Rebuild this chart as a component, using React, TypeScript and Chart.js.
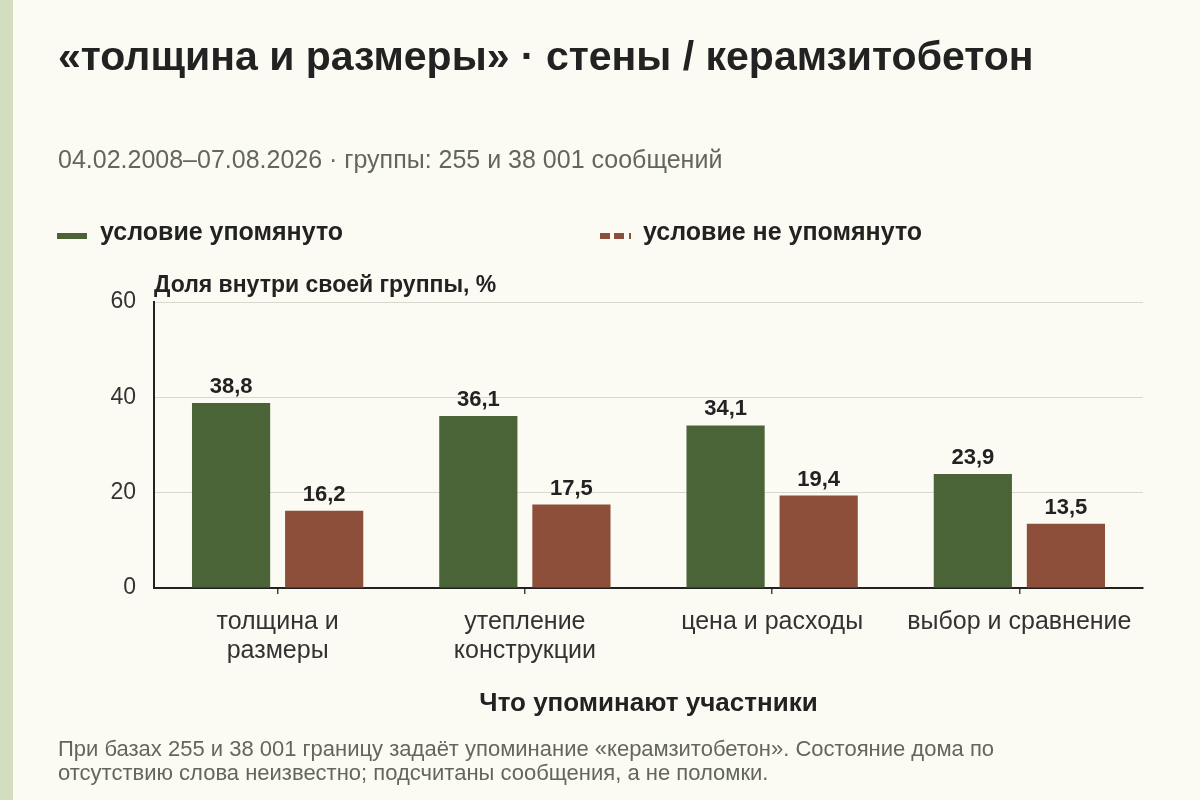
import React, { useEffect, useRef } from 'react';
import { Chart, registerables } from 'chart.js';

Chart.register(...registerables);

const categories: (string | string[])[] = [
  ['толщина и', 'размеры'],
  ['утепление', 'конструкции'],
  'цена и расходы',
  'выбор и сравнение',
];
const mentioned = [38.8, 36.1, 34.1, 23.9];
const notMentioned = [16.2, 17.5, 19.4, 13.5];
const yTicks = [0, 20, 40, 60];

const GREEN = '#4a6438';
const BROWN = '#8d4f39';
const FONT = '"Liberation Sans", Arial, sans-serif';
const INK = '#222';
const MUTED = '#63665b';

// value above each bar, decimal comma
const valueLabels = {
  id: 'valueLabels',
  afterDatasetsDraw(chart: any) {
    const ctx = chart.ctx;
    ctx.save();
    ctx.font = `bold 22px ${FONT}`;
    ctx.fillStyle = INK;
    ctx.textAlign = 'center';
    ctx.textBaseline = 'alphabetic';
    chart.data.datasets.forEach((ds: any, i: number) => {
      const meta = chart.getDatasetMeta(i);
      meta.data.forEach((bar: any, j: number) => {
        const v = ds.data[j] as number;
        ctx.fillText(v.toFixed(1).replace('.', ','), bar.x, bar.y - 10);
      });
    });
    ctx.restore();
  },
};

const axisTitles = {
  id: 'axisTitles',
  afterDraw(chart: any) {
    const { ctx, chartArea } = chart;
    ctx.save();
    ctx.fillStyle = INK;
    ctx.font = `bold 23px ${FONT}`;
    ctx.textAlign = 'left';
    ctx.textBaseline = 'alphabetic';
    ctx.fillText('Доля внутри своей группы, %', chartArea.left, 292);
    ctx.font = `bold 26px ${FONT}`;
    ctx.textAlign = 'center';
    ctx.fillText('Что упоминают участники', (chartArea.left + chartArea.right) / 2, 711);
    ctx.restore();
  },
};

export default function App() {
  const canvasRef = useRef<HTMLCanvasElement | null>(null);
  const chartRef = useRef<Chart | null>(null);

  useEffect(() => {
    if (!canvasRef.current) return;
    if (chartRef.current) chartRef.current.destroy();
    const ctx = canvasRef.current.getContext('2d');
    if (!ctx) return;

    chartRef.current = new Chart(ctx, {
      type: 'bar',
      data: {
        labels: categories,
        datasets: [
          {
            label: 'условие упомянуто',
            data: mentioned,
            backgroundColor: GREEN,
            barPercentage: 0.84,
            categoryPercentage: 0.753,
          },
          {
            label: 'условие не упомянуто',
            data: notMentioned,
            backgroundColor: BROWN,
            barPercentage: 0.84,
            categoryPercentage: 0.753,
          },
        ],
      },
      options: {
        animation: false,
        responsive: false,
        maintainAspectRatio: false,
        layout: { padding: { left: 0, right: 57, top: 302, bottom: 0 } },
        plugins: {
          legend: { display: false },
          tooltip: { enabled: false },
        },
        scales: {
          x: {
            afterFit: (s: any) => { s.height = 212; },
            grid: {
              offset: false,
              drawOnChartArea: false,
              drawTicks: true,
              tickLength: 6,
              color: '#444',
              lineWidth: 1.5,
            },
            border: { color: INK, width: 2 },
            ticks: {
              color: '#333',
              font: { family: FONT, size: 25, lineHeight: 1.15 },
              padding: 14,
              maxRotation: 0,
            },
          },
          y: {
            min: 0,
            max: 60,
            afterFit: (s: any) => { s.width = 154; },
            afterBuildTicks: (s: any) => { s.ticks = yTicks.map((v) => ({ value: v })); },
            grid: { color: '#d9d8cf', lineWidth: 1, drawTicks: false },
            border: { color: INK, width: 2 },
            ticks: {
              color: '#333',
              font: { family: FONT, size: 23 },
              padding: 18,
            },
          },
        },
      },
      plugins: [valueLabels, axisTitles],
    });

    return () => {
      if (chartRef.current) chartRef.current.destroy();
    };
  }, []);

  const line1 = { position: 'absolute' as const, lineHeight: 1, whiteSpace: 'nowrap' as const };

  return (
    <div style={{ position: 'fixed', top: 0, left: 0, width: 1200, height: 800, background: '#fcfbf3', fontFamily: FONT, overflow: 'hidden' }}>
      <div style={{ position: 'absolute', left: 0, top: 0, width: 13, height: 800, background: '#d3dec0' }} />
      <canvas ref={canvasRef} width={1200} height={800} style={{ position: 'absolute', left: 0, top: 0, width: 1200, height: 800 }} />
      <div style={{ ...line1, left: 58, top: 36, fontSize: 41, fontWeight: 'bold', color: INK }}>
        «толщина и размеры» · стены / керамзитобетон
      </div>
      <div style={{ ...line1, left: 58, top: 147, fontSize: 25, color: MUTED }}>
        04.02.2008–07.08.2026 · группы: 255 и 38 001 сообщений
      </div>
      <div style={{ position: 'absolute', left: 57, top: 233, width: 30, height: 6, background: GREEN }} />
      <div style={{ ...line1, left: 100, top: 219, fontSize: 25, fontWeight: 'bold', color: INK }}>условие упомянуто</div>
      <div style={{ position: 'absolute', left: 600, top: 233, width: 31, height: 6, background: `repeating-linear-gradient(90deg, ${BROWN} 0 10px, transparent 10px 14.5px)` }} />
      <div style={{ ...line1, left: 643, top: 219, fontSize: 25, fontWeight: 'bold', color: INK }}>условие не упомянуто</div>
      <div style={{ position: 'absolute', left: 58, top: 737, fontSize: 22, lineHeight: '24px', color: MUTED, width: 1100 }}>
        При базах 255 и 38 001 границу задаёт упоминание «керамзитобетон». Состояние дома по<br />
        отсутствию слова неизвестно; подсчитаны сообщения, а не поломки.
      </div>
    </div>
  );
}
